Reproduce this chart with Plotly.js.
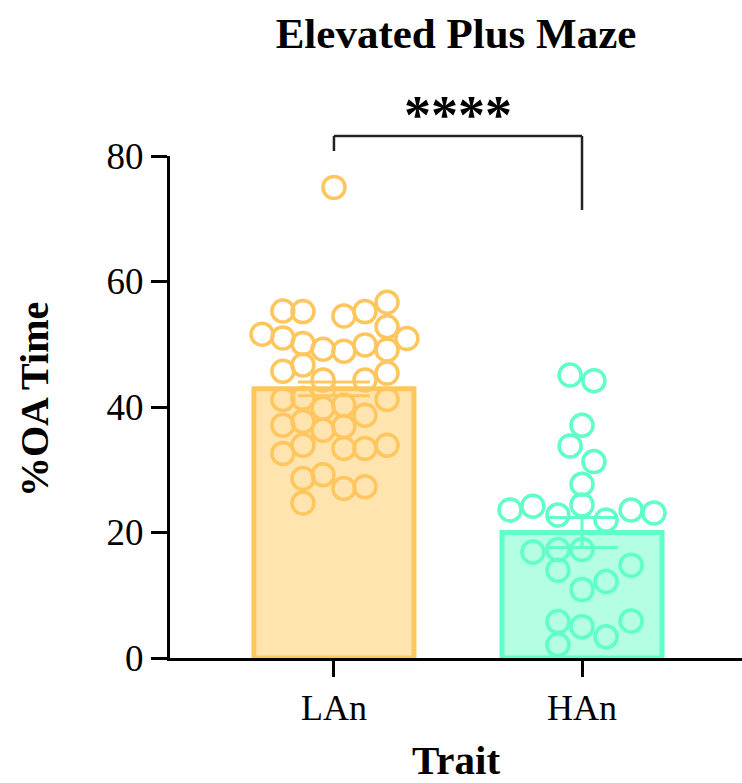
<!DOCTYPE html>
<html>
<head>
<meta charset="utf-8">
<script src="https://cdn.plot.ly/plotly-3.0.1.min.js"></script>
<style>html,body{margin:0;padding:0;background:#fff;}#chart{width:742px;height:783px;}</style>
</head>
<body>
<div id="chart"></div>
<script>
// ---- data ----
const categories = ["LAn", "HAn"];
const barMeans = [42.9, 20.0];
const barSEM = [1.1, 2.4];

// individual points: value and horizontal jitter (category units)
const lanValues = [75, 55.3, 55.2, 54.5, 55.2, 56.7, 51.6, 51.0, 50.1, 49.2, 48.9, 49.9, 52.8, 50.9, 49.1,
  45.7, 46.7, 44.3, 44.3, 45.4, 41.2, 41.4, 39.8, 40.3, 38.7, 41.2, 37.1, 37.7, 36.3, 36.9,
  32.6, 33.9, 33.4, 33.4, 33.9, 28.6, 29.2, 27.0, 27.3, 24.7];
const lanJitter = [0, -0.206, -0.125, 0.04, 0.125, 0.214, -0.29, -0.206, -0.125, -0.044, 0.04, 0.125, 0.214, 0.294, 0.214,
  -0.206, -0.125, -0.044, 0.125, 0.214, -0.206, -0.125, -0.044, 0.04, 0.125, 0.214, -0.206, -0.125, -0.044, 0.04,
  -0.206, -0.125, 0.04, 0.125, 0.214, -0.125, -0.044, 0.04, 0.125, -0.125];

const hanValues = [45.1, 44.2, 37.1, 33.8, 31.3, 27.7, 23.6, 24.2, 22.8, 24.4, 22.0, 23.6, 23.1,
  16.9, 17.3, 17.3, 14.0, 14.8, 12.2, 10.9, 5.8, 5.0, 5.9, 3.4, 2.1];
const hanJitter = [-0.048, 0.048, 0, -0.048, 0.048, 0, -0.29, -0.198, -0.097, 0, 0.097, 0.198, 0.29,
  -0.198, -0.097, 0, -0.097, 0.198, 0.097, 0, -0.097, 0, 0.198, 0.097, -0.097];

const yTicks = [0, 20, 40, 60, 80];
const sigLabel = "****";
// significance bracket, in value units
const bracketTop = 83.2;
const bracketLeftEnd = 80.8;
const bracketRightEnd = 71.4;
const sigLabelY = 86.6;

// ---- styles ----
const strokeColors = ["#FFC65E", "#5EFFC8"];
const fillColors = ["#FFE4B0", "#B4FFE4"];
const serif = "Liberation Serif, Times New Roman, serif";
const yMax = 80;

const traces = [];
categories.forEach((c, i) => {
  traces.push({
    type: "bar",
    x: [i],
    y: [barMeans[i]],
    width: 0.645,
    marker: {color: fillColors[i], line: {color: strokeColors[i], width: 5}},
    error_y: {type: "data", array: [barSEM[i]], visible: true, color: strokeColors[i], thickness: 3, width: 36},
    hoverinfo: "skip",
    showlegend: false
  });
});
const groups = [[lanValues, lanJitter], [hanValues, hanJitter]];
groups.forEach((g, i) => {
  traces.push({
    type: "scatter",
    mode: "markers",
    x: g[0].map((v, k) => i + g[1][k]),
    y: g[0],
    cliponaxis: false,
    marker: {symbol: "circle-open", size: 22, color: strokeColors[i], line: {width: 3.5, color: strokeColors[i]}},
    showlegend: false,
    hoverinfo: "skip"
  });
});

const bracketLine = {color: "#222", width: 2.5};
const layout = {
  width: 742,
  height: 783,
  margin: {l: 170, r: 0, t: 156, b: 125},
  paper_bgcolor: "#fff",
  plot_bgcolor: "#fff",
  barmode: "overlay",
  font: {family: serif, color: "#000"},
  title: {
    text: "<b>Elevated Plus Maze</b>",
    font: {family: serif, size: 43, color: "#000"},
    x: 0.5, xref: "paper", xanchor: "center",
    y: 1 - 33 / 783, yref: "container", yanchor: "middle"
  },
  xaxis: {
    range: [-0.661, 1.645],
    tickvals: categories.map((c, i) => i),
    ticktext: categories,
    tickfont: {family: serif, size: 36, color: "#000"},
    showline: true, linecolor: "#000", linewidth: 3,
    ticks: "outside", ticklen: 16, tickwidth: 3, tickcolor: "#000",
    showgrid: false, zeroline: false, fixedrange: true
  },
  yaxis: {
    range: [0, yMax],
    tickvals: yTicks,
    ticktext: yTicks.map(String),
    tickfont: {family: serif, size: 37, color: "#000"},
    showline: true, linecolor: "#000", linewidth: 3,
    ticks: "outside", ticklen: 16, tickwidth: 3, tickcolor: "#000",
    showgrid: false, zeroline: false, fixedrange: true
  },
  shapes: [
    {type: "line", xref: "x", yref: "paper", x0: 0, x1: 0, y0: bracketLeftEnd / yMax, y1: bracketTop / yMax, line: bracketLine},
    {type: "line", xref: "x", yref: "paper", x0: 0, x1: 1, y0: bracketTop / yMax, y1: bracketTop / yMax, line: bracketLine},
    {type: "line", xref: "x", yref: "paper", x0: 1, x1: 1, y0: bracketRightEnd / yMax, y1: bracketTop / yMax, line: bracketLine}
  ],
  annotations: [
    {text: "<b>" + sigLabel + "</b>", xref: "x", yref: "paper", x: 0.5, y: sigLabelY / yMax, showarrow: false,
     xanchor: "center", yanchor: "middle", font: {family: serif, size: 54, color: "#000"}},
    {text: "<b>%OA Time</b>", xref: "paper", yref: "paper", x: (34 - 170) / 572, y: 0.5 - (400 - 407) / 502,
     textangle: -90, showarrow: false, xanchor: "center", yanchor: "middle",
     font: {family: serif, size: 40, color: "#000"}},
    {text: "<b>Trait</b>", xref: "paper", yref: "paper", x: 0.5, y: (658 - 760) / 502, showarrow: false,
     xanchor: "center", yanchor: "middle", font: {family: serif, size: 41, color: "#000"}}
  ]
};

Plotly.newPlot("chart", traces, layout, {displayModeBar: false, staticPlot: true});
</script>
</body>
</html>
